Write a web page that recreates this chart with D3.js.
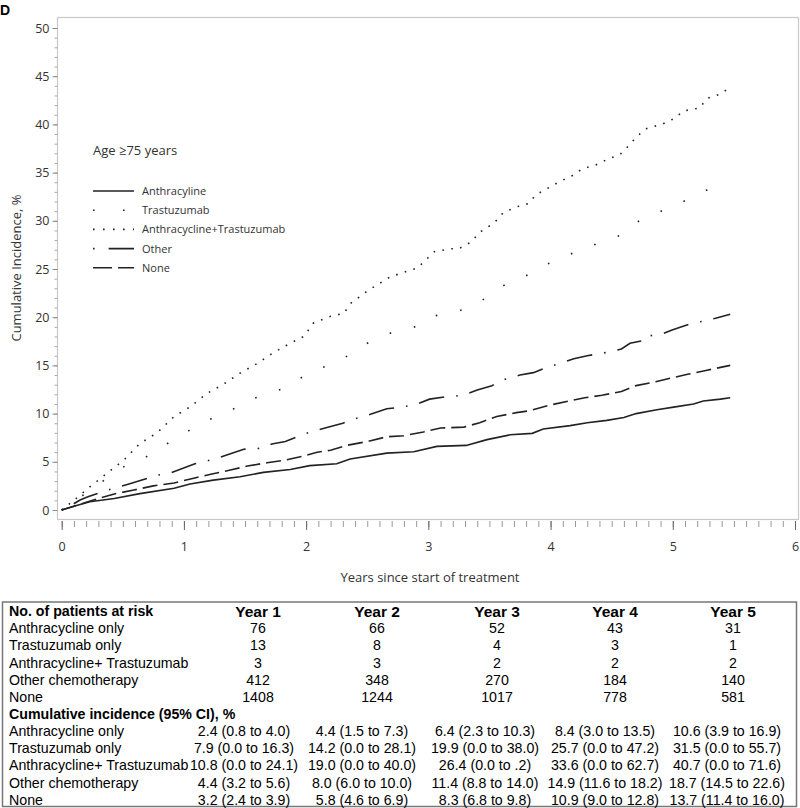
<!DOCTYPE html>
<html lang="en">
<head>
<meta charset="utf-8">
<title>Cumulative incidence, age 75+</title>
<script src="https://cdn.jsdelivr.net/npm/d3@7"></script>
<style>
  body { margin: 0; background: #fff; }
  svg { display: block; }
  .tick text { font-family: "Open Sans", sans-serif; font-size: 12.5px; fill: #333; }
  .tbl { font-family: "Liberation Sans", Arial, sans-serif; font-size: 14.2px; fill: #000; }
</style>
</head>
<body>
<svg id="chart" width="800" height="808"></svg>
<script>
// curves: [years, cumulative incidence %]
var anthracycline = [[0,0],[0.1,0.4],[0.23,0.86],[0.43,1.2],[0.64,1.7],[0.92,2.25],[1.05,2.7],[1.24,3.1],[1.46,3.45],[1.65,3.9],[1.87,4.2],[2.03,4.6],[2.25,4.8],[2.36,5.3],[2.66,5.9],[2.88,6.05],[3.07,6.6],[3.31,6.7],[3.48,7.3],[3.67,7.8],[3.85,7.95],[3.94,8.4],[4.16,8.75],[4.3,9.05],[4.46,9.3],[4.6,9.6],[4.7,10.0],[4.87,10.4],[5.02,10.7],[5.17,11.0],[5.25,11.3],[5.39,11.5],[5.47,11.65]];
var trastuzumab = [[0,0],[0.1,0.9],[0.23,2.0],[0.38,3.4],[0.51,4.5],[0.67,5.3],[0.79,6.5],[0.94,7.3],[1.07,8.5],[1.21,9.4],[1.37,10.2],[1.51,11.3],[1.67,12.0],[1.84,12.7],[1.97,13.8],[2.12,14.7],[2.28,15.5],[2.41,16.6],[2.54,17.6],[2.7,18.4],[2.89,19.0],[3.03,20.1],[3.22,20.5],[3.38,21.3],[3.51,22.3],[3.64,23.5],[3.8,24.3],[3.93,25.3],[4.09,26.1],[4.24,27.0],[4.4,27.7],[4.57,28.5],[4.68,29.7],[4.83,30.6],[4.98,31.4],[5.14,32.3],[5.28,33.2],[5.44,34.0]];
var anthTrast = [[0,0],[0.1,1.0],[0.23,2.4],[0.37,3.8],[0.51,5.2],[0.64,6.9],[0.78,8.0],[0.92,9.7],[1.05,10.7],[1.19,12.1],[1.33,13.1],[1.46,14.2],[1.6,15.2],[1.73,16.3],[1.87,17.3],[1.98,18.0],[2.06,19.4],[2.2,20.1],[2.31,20.4],[2.36,21.4],[2.51,22.8],[2.69,24.2],[2.91,25.1],[3.05,26.8],[3.18,27.1],[3.25,27.1],[3.35,27.8],[3.42,28.8],[3.54,29.8],[3.61,30.8],[3.71,31.4],[3.82,31.8],[3.88,32.7],[3.98,33.4],[4.08,34.1],[4.18,34.7],[4.26,35.4],[4.37,35.8],[4.47,36.4],[4.57,36.9],[4.64,37.8],[4.71,38.8],[4.79,39.6],[4.91,40.0],[5.01,40.6],[5.09,41.4],[5.22,41.7],[5.28,42.7],[5.4,43.2],[5.44,43.6]];
var other = [[0,0],[0.08,0.5],[0.15,1.04],[0.22,1.4],[0.4,2.15],[0.55,2.7],[0.78,3.6],[0.9,3.9],[1.09,4.8],[1.24,5.25],[1.35,5.7],[1.49,6.3],[1.63,6.4],[1.72,6.85],[1.83,7.1],[1.97,7.8],[2.06,8.2],[2.17,8.55],[2.3,9.0],[2.41,9.5],[2.52,9.9],[2.66,10.5],[2.77,10.65],[2.9,10.95],[3.01,11.5],[3.15,11.75],[3.29,11.9],[3.4,12.45],[3.52,12.9],[3.61,13.5],[3.75,14.0],[3.86,14.25],[3.97,14.8],[4.1,15.3],[4.19,15.7],[4.3,16.0],[4.46,16.35],[4.58,16.7],[4.65,17.3],[4.77,17.6],[4.79,18.05],[4.9,18.2],[5.0,18.7],[5.14,19.3],[5.25,19.6],[5.35,19.9],[5.47,20.3]];
var none = [[0,0],[0.1,0.4],[0.26,1.04],[0.43,1.66],[0.59,2.07],[0.75,2.5],[0.92,2.8],[1.08,3.3],[1.22,3.7],[1.38,4.15],[1.52,4.56],[1.68,4.9],[1.84,5.2],[1.98,5.6],[2.09,6.0],[2.2,6.2],[2.33,6.7],[2.5,7.1],[2.66,7.6],[2.8,7.7],[2.96,8.1],[3.1,8.5],[3.29,8.6],[3.42,9.05],[3.56,9.7],[3.72,10.1],[3.83,10.3],[4.0,10.9],[4.15,11.3],[4.28,11.65],[4.42,11.9],[4.58,12.3],[4.7,12.9],[4.86,13.3],[4.99,13.7],[5.13,14.1],[5.28,14.5],[5.43,14.9],[5.47,15.0]];

var legendLabels = ["Anthracyline", "Trastuzumab", "Anthracycline+Trastuzumab", "Other", "None"];
var yTicks = [0, 5, 10, 15, 20, 25, 30, 35, 40, 45, 50];
var xTicks = [0, 1, 2, 3, 4, 5, 6];

// table under the chart
var years = ["Year 1", "Year 2", "Year 3", "Year 4", "Year 5"];
var groups = ["Anthracycline only", "Trastuzumab only", "Anthracycline+ Trastuzumab", "Other chemotherapy", "None"];
var atRiskAnth = ["76", "66", "52", "43", "31"];
var atRiskTrast = ["13", "8", "4", "3", "1"];
var atRiskBoth = ["3", "3", "2", "2", "2"];
var atRiskOther = ["412", "348", "270", "184", "140"];
var atRiskNone = ["1408", "1244", "1017", "778", "581"];
var ciAnth = ["2.4 (0.8 to 4.0)", "4.4 (1.5 to 7.3)", "6.4 (2.3 to 10.3)", "8.4 (3.0 to 13.5)", "10.6 (3.9 to 16.9)"];
var ciTrast = ["7.9 (0.0 to 16.3)", "14.2 (0.0 to 28.1)", "19.9 (0.0 to 38.0)", "25.7 (0.0 to 47.2)", "31.5 (0.0 to 55.7)"];
var ciBoth = ["10.8 (0.0 to 24.1)", "19.0 (0.0 to 40.0)", "26.4 (0.0 to .2)", "33.6 (0.0 to 62.7)", "40.7 (0.0 to 71.6)"];
var ciOther = ["4.4 (3.2 to 5.6)", "8.0 (6.0 to 10.0)", "11.4 (8.8 to 14.0)", "14.9 (11.6 to 18.2)", "18.7 (14.5 to 22.6)"];
var ciNone = ["3.2 (2.4 to 3.9)", "5.8 (4.6 to 6.9)", "8.3 (6.8 to 9.8)", "10.9 (9.0 to 12.8)", "13.7 (11.4 to 16.0)"];

var svg = d3.select("#chart");

var x = d3.scaleLinear().domain([0, 6]).range([61.7, 795]);
var y = d3.scaleLinear().domain([0, 50]).range([510, 28]);

// panel letter
svg.append("text").attr("x", 0).attr("y", 15)
  .style("font-family", "Liberation Sans, Arial, sans-serif").style("font-weight", "bold").style("font-size", "14px")
  .text("D");

// plot frame
svg.append("rect").attr("x", 57.5).attr("y", 17.5).attr("width", 741).attr("height", 502)
  .attr("fill", "none").attr("stroke", "#c8c8c8").attr("stroke-width", 1.2);

// y axis, major + minor
var yMinor = svg.append("g").attr("transform", "translate(57.5,0)")
  .call(d3.axisLeft(y).tickValues(d3.range(0, 50.5, 1)).tickSize(3).tickFormat(""));
yMinor.select(".domain").remove();
yMinor.selectAll("line").attr("stroke", "#aaa");

var yAxis = svg.append("g").attr("transform", "translate(57.5,0)")
  .call(d3.axisLeft(y).tickValues(yTicks).tickSize(5).tickPadding(3));
yAxis.select(".domain").remove();
yAxis.selectAll("line").attr("stroke", "#888");

// x axis, major + minor
var xMinor = svg.append("g").attr("transform", "translate(0,521)")
  .call(d3.axisBottom(x).tickValues(d3.range(0, 6.01, 0.1)).tickSize(6).tickFormat(""));
xMinor.select(".domain").remove();
xMinor.selectAll("line").attr("stroke", "#999");

var xAxis = svg.append("g").attr("transform", "translate(0,521)")
  .call(d3.axisBottom(x).tickValues(xTicks).tickSize(9).tickPadding(12).tickFormat(d3.format("d")));
xAxis.select(".domain").remove();
xAxis.selectAll("line").attr("stroke", "#666");

// axis titles
svg.append("text")
  .attr("transform", "translate(21,268) rotate(-90)")
  .attr("text-anchor", "middle")
  .style("font-family", "Open Sans, sans-serif").style("font-size", "13px").style("fill", "#333")
  .text("Cumulative Incidence, %");

svg.append("text")
  .attr("x", 430).attr("y", 582)
  .attr("text-anchor", "middle")
  .style("font-family", "Open Sans, sans-serif").style("font-size", "13px").style("fill", "#333")
  .text("Years since start of treatment");

// curves
var series = [
  { data: anthracycline, dash: null },
  { data: trastuzumab, dash: "1.6,23.4" },
  { data: anthTrast, dash: "1.6,7.4" },
  { data: other, dash: "1.6,12,26,12" },
  { data: none, dash: "15,6" }
];

var line = d3.line()
  .x(function(d) { return x(d[0]); })
  .y(function(d) { return y(d[1]); });

series.forEach(function(s) {
  svg.append("path")
    .datum(s.data)
    .attr("d", line)
    .attr("fill", "none")
    .attr("stroke", "#222")
    .attr("stroke-width", 1.6)
    .attr("stroke-dasharray", s.dash);
});

// legend
var legend = svg.append("g");
legend.append("text").attr("x", 93).attr("y", 155)
  .style("font-family", "Open Sans, sans-serif").style("font-size", "13px").style("fill", "#333")
  .text("Age \u226575 years");

var legendDash = [null, "1.6,28.4", "1.6,8.4", "1.6,14,26,14", "19,6"];
legendLabels.forEach(function(lbl, i) {
  var ly = 191 + i * 19.2;
  legend.append("line").attr("x1", 93).attr("x2", 134).attr("y1", ly).attr("y2", ly)
    .attr("stroke", "#222").attr("stroke-width", 1.6).attr("stroke-dasharray", legendDash[i]);
  legend.append("text").attr("x", 142).attr("y", ly + 4)
    .style("font-family", "Open Sans, sans-serif").style("font-size", "11px").style("fill", "#333")
    .text(lbl);
});

// table
var tbl = svg.append("g");
tbl.append("rect").attr("x", 2.5).attr("y", 602).attr("width", 794).attr("height", 204.5)
  .attr("fill", "none").attr("stroke", "#777").attr("stroke-width", 1.5);

var rowY0 = 611, rowStep = 17.15;
var colYear = [258, 377, 497, 615, 733];
var colCI = [244, 362, 485, 605, 727];

function rowText(txt, xx, yy, anchor, bold, size) {
  tbl.append("text").attr("class", "tbl")
    .attr("x", xx).attr("y", yy).attr("dy", "0.36em")
    .attr("text-anchor", anchor)
    .style("font-weight", bold ? "bold" : "normal")
    .style("font-size", size ? size + "px" : null)
    .text(txt);
}

rowText("No. of patients at risk", 9, rowY0, "start", true);
years.forEach(function(yr, i) { rowText(yr, colYear[i], rowY0, "middle", true, 15.5); });

var riskRows = [atRiskAnth, atRiskTrast, atRiskBoth, atRiskOther, atRiskNone];
riskRows.forEach(function(vals, r) {
  var yy = rowY0 + (r + 1) * rowStep;
  rowText(groups[r], 9, yy, "start");
  vals.forEach(function(v, i) { rowText(v, colYear[i], yy, "middle"); });
});

rowText("Cumulative incidence (95% CI), %", 9, rowY0 + 6 * rowStep, "start", true);

var ciRows = [ciAnth, ciTrast, ciBoth, ciOther, ciNone];
ciRows.forEach(function(vals, r) {
  var yy = rowY0 + (r + 7) * rowStep;
  rowText(groups[r], 9, yy, "start");
  vals.forEach(function(v, i) { rowText(v, colCI[i], yy, "middle"); });
});
</script>
</body>
</html>
